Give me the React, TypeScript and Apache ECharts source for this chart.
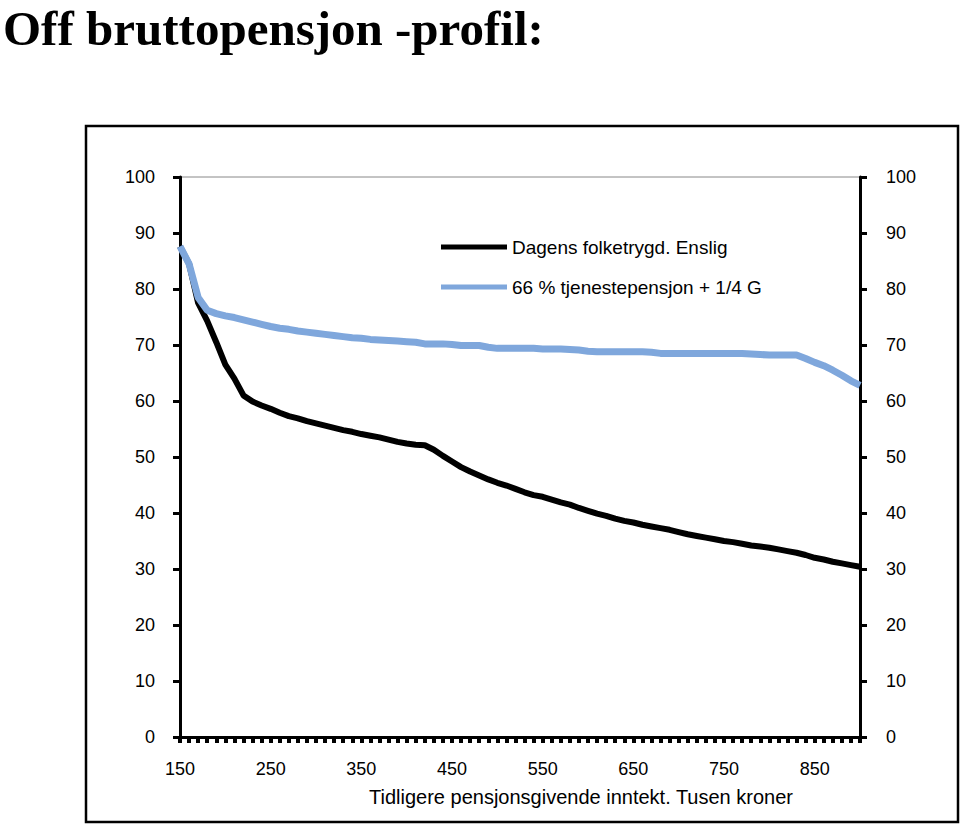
import React, { useEffect, useRef } from "react";
import * as echarts from "echarts";

const titleText = "Off bruttopensjon -profil:";
const xAxisTitle = "Tidligere pensjonsgivende inntekt. Tusen kroner";
const seriesNames = ["Dagens folketrygd. Enslig", "66 % tjenestepensjon + 1/4 G"];

// Income categories, 150 to 900 (thousand NOK), step 10
const categories: string[] = [
  "150","160","170","180","190","200","210","220","230","240",
  "250","260","270","280","290","300","310","320","330","340",
  "350","360","370","380","390","400","410","420","430","440",
  "450","460","470","480","490","500","510","520","530","540",
  "550","560","570","580","590","600","610","620","630","640",
  "650","660","670","680","690","700","710","720","730","740",
  "750","760","770","780","790","800","810","820","830","840",
  "850","860","870","880","890","900",
];

const folketrygd: number[] = [
  87.6, 84.5, 77.5, 74.3, 70.5, 66.5, 64.0, 61.0, 59.9, 59.2,
  58.6, 57.9, 57.3, 56.9, 56.4, 56.0, 55.6, 55.2, 54.8, 54.5,
  54.1, 53.8, 53.5, 53.1, 52.7, 52.4, 52.2, 52.1, 51.3, 50.2,
  49.2, 48.2, 47.4, 46.7, 46.0, 45.4, 44.9, 44.3, 43.7, 43.2,
  42.9, 42.4, 41.9, 41.5, 40.9, 40.4, 39.9, 39.5, 39.0, 38.6,
  38.3, 37.9, 37.6, 37.3, 37.0, 36.6, 36.2, 35.9, 35.6, 35.3,
  35.0, 34.8, 34.5, 34.2, 34.0, 33.8, 33.5, 33.2, 32.9, 32.5,
  32.0, 31.7, 31.3, 31.0, 30.7, 30.4,
];

const tjenestepensjon: number[] = [
  87.6, 84.5, 78.5, 76.2, 75.6, 75.2, 74.9, 74.5, 74.1, 73.7,
  73.3, 73.0, 72.8, 72.5, 72.3, 72.1, 71.9, 71.7, 71.5, 71.3,
  71.2, 71.0, 70.9, 70.8, 70.7, 70.6, 70.5, 70.2, 70.2, 70.2,
  70.1, 69.9, 69.9, 69.9, 69.6, 69.4, 69.4, 69.4, 69.4, 69.4,
  69.3, 69.3, 69.3, 69.2, 69.1, 68.9, 68.8, 68.8, 68.8, 68.8,
  68.8, 68.8, 68.7, 68.5, 68.5, 68.5, 68.5, 68.5, 68.5, 68.5,
  68.5, 68.5, 68.5, 68.4, 68.3, 68.2, 68.2, 68.2, 68.2, 67.6,
  66.9, 66.3, 65.5, 64.6, 63.6, 62.8,
];

const FONT = "'Liberation Sans', Arial, sans-serif";

export default function App() {
  const ref = useRef<HTMLDivElement>(null);
  useEffect(() => {
    if (!ref.current) return;
    const chart = echarts.init(ref.current, undefined, { renderer: "svg" });
    const yAxisCommon = {
      type: "value" as const,
      min: 0,
      max: 100,
      interval: 10,
      splitLine: { show: false },
      axisLine: { show: true, lineStyle: { color: "#000", width: 3 } },
      axisTick: { show: true, inside: false, length: 7, lineStyle: { color: "#000", width: 3 } },
      axisLabel: { color: "#000", fontSize: 18, fontFamily: FONT, margin: 25 },
    };
    chart.setOption({
      animation: false,
      backgroundColor: "#fff",
      grid: {
        left: 180,
        right: 100,
        top: 177,
        bottom: 91,
        show: true,
        borderColor: "#888",
        borderWidth: 1,
        backgroundColor: "transparent",
      },
      legend: {
        orient: "vertical",
        left: 436,
        top: 232,
        itemWidth: 66,
        itemHeight: 5,
        itemGap: 20,
        icon: "rect",
        data: seriesNames,
        textStyle: { color: "#000", fontSize: 19, fontFamily: FONT, lineHeight: 20 },
      },
      xAxis: {
        type: "category",
        data: categories,
        boundaryGap: false,
        axisLine: { lineStyle: { color: "#000", width: 3 } },
        axisTick: { show: true, interval: 0, length: 6, lineStyle: { color: "#000", width: 4 } },
        axisLabel: { interval: 9, color: "#000", fontSize: 18, fontFamily: FONT, margin: 23 },
        splitLine: { show: false },
      },
      yAxis: [
        { ...yAxisCommon, position: "left" },
        { ...yAxisCommon, position: "right", axisLabel: { ...yAxisCommon.axisLabel, margin: 26 } },
      ],
      series: [
        {
          name: seriesNames[0],
          type: "line",
          data: folketrygd,
          yAxisIndex: 0,
          showSymbol: false,
          lineStyle: { color: "#000", width: 6 },
          itemStyle: { color: "#000" },
        },
        {
          name: seriesNames[1],
          type: "line",
          data: tjenestepensjon,
          yAxisIndex: 0,
          showSymbol: false,
          lineStyle: { color: "#7FA7DC", width: 7 },
          itemStyle: { color: "#7FA7DC" },
        },
      ],
      graphic: [
        {
          type: "rect",
          shape: { x: 86, y: 126, width: 872, height: 696 },
          style: { fill: "none", stroke: "#000", lineWidth: 2.5 },
          silent: true,
        },
        {
          type: "text",
          x: 3,
          y: 28,
          style: {
            text: titleText,
            fontFamily: "'Liberation Serif', 'Times New Roman', serif",
            fontWeight: "bold",
            fontSize: 49,
            lineHeight: 44,
            fill: "#000",
            textAlign: "left",
            textVerticalAlign: "middle",
          },
        },
        {
          type: "text",
          x: 581,
          y: 797,
          style: {
            text: xAxisTitle,
            fontFamily: FONT,
            fontSize: 20,
            fill: "#000",
            textAlign: "center",
            textVerticalAlign: "middle",
          },
        },
      ],
    });
    return () => chart.dispose();
  }, []);
  return (
    <div
      ref={ref}
      style={{ position: "absolute", left: 0, top: 0, width: 960, height: 828 }}
    />
  );
}
